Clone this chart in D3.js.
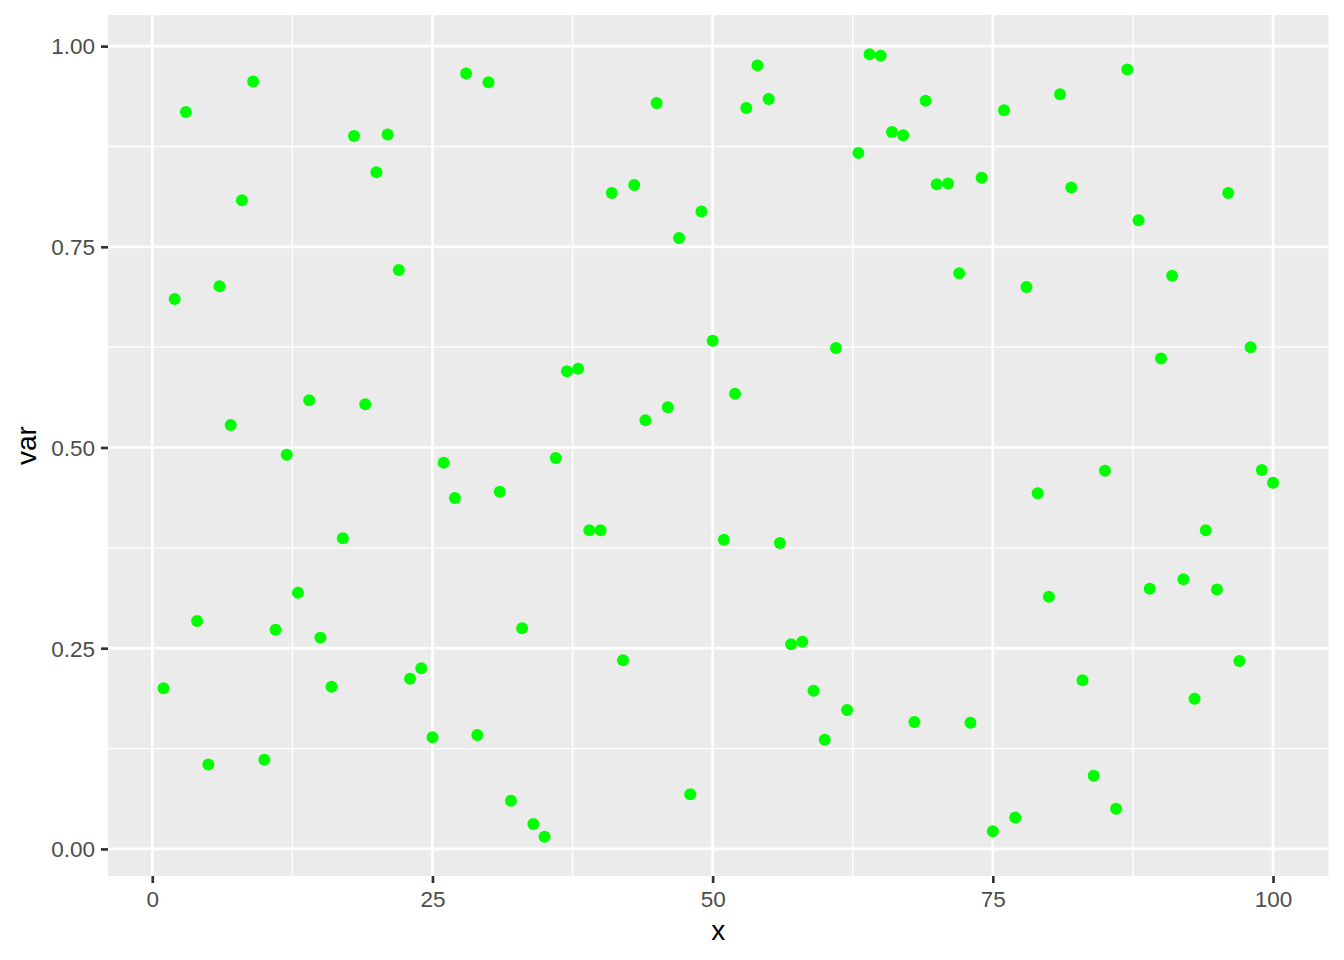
<!DOCTYPE html>
<html>
<head>
<meta charset="utf-8">
<script src="https://cdn.jsdelivr.net/npm/d3@7"></script>
<style>
  html, body { margin: 0; padding: 0; background: #ffffff; }
  svg { display: block; }
</style>
</head>
<body>
<svg id="chart" width="1344" height="960"></svg>
<script>
const xValues = Array.from({length: 100}, (_, i) => i + 1);
const varValues = [
  0.200, 0.685, 0.918, 0.284, 0.105, 0.701, 0.528, 0.808, 0.956, 0.111,
  0.273, 0.491, 0.319, 0.559, 0.263, 0.202, 0.387, 0.888, 0.554, 0.843,
  0.890, 0.721, 0.212, 0.225, 0.139, 0.481, 0.437, 0.966, 0.142, 0.955,
  0.445, 0.060, 0.275, 0.031, 0.015, 0.487, 0.595, 0.598, 0.397, 0.397,
  0.817, 0.235, 0.827, 0.534, 0.929, 0.550, 0.761, 0.068, 0.794, 0.633,
  0.385, 0.567, 0.923, 0.976, 0.934, 0.381, 0.255, 0.258, 0.197, 0.136,
  0.624, 0.173, 0.867, 0.990, 0.988, 0.893, 0.889, 0.158, 0.932, 0.828,
  0.829, 0.717, 0.157, 0.836, 0.022, 0.920, 0.039, 0.700, 0.443, 0.314,
  0.940, 0.824, 0.210, 0.091, 0.471, 0.050, 0.971, 0.783, 0.324, 0.611,
  0.714, 0.336, 0.187, 0.397, 0.323, 0.817, 0.234, 0.625, 0.472, 0.456
];
const xTicks = [0, 25, 50, 75, 100];
const xMinor = [12.5, 37.5, 62.5, 87.5];
const yTicks = [0, 0.25, 0.5, 0.75, 1.0];
const yMinor = [0.125, 0.375, 0.625, 0.875];
const xTitle = "x";
const yTitle = "var";

const data = xValues.map((x, i) => ({x, y: varValues[i]}));

const panel = {left: 108, right: 1328.5, top: 15, bottom: 876};
const svg = d3.select("#chart");

const xExt = d3.extent(xValues);
const xPad = (xExt[1] - xExt[0]) * 0.05;
const yExt = d3.extent(varValues);
const yPad = (yExt[1] - yExt[0]) * 0.05;

const x = d3.scaleLinear().domain([xExt[0] - xPad, xExt[1] + xPad]).range([panel.left, panel.right]);
const y = d3.scaleLinear().domain([yExt[0] - yPad, yExt[1] + yPad]).range([panel.bottom, panel.top]);

svg.append("rect")
  .attr("x", panel.left).attr("y", panel.top)
  .attr("width", panel.right - panel.left).attr("height", panel.bottom - panel.top)
  .attr("fill", "#EBEBEB");

const grid = svg.append("g");
grid.selectAll(".ymin").data(yMinor).enter().append("line")
  .attr("x1", panel.left).attr("x2", panel.right)
  .attr("y1", d => y(d)).attr("y2", d => y(d))
  .attr("stroke", "#ffffff").attr("stroke-width", 1.35);
grid.selectAll(".xmin").data(xMinor).enter().append("line")
  .attr("y1", panel.top).attr("y2", panel.bottom)
  .attr("x1", d => x(d)).attr("x2", d => x(d))
  .attr("stroke", "#ffffff").attr("stroke-width", 1.35);
grid.selectAll(".ymaj").data(yTicks).enter().append("line")
  .attr("x1", panel.left).attr("x2", panel.right)
  .attr("y1", d => y(d)).attr("y2", d => y(d))
  .attr("stroke", "#ffffff").attr("stroke-width", 2.7);
grid.selectAll(".xmaj").data(xTicks).enter().append("line")
  .attr("y1", panel.top).attr("y2", panel.bottom)
  .attr("x1", d => x(d)).attr("x2", d => x(d))
  .attr("stroke", "#ffffff").attr("stroke-width", 2.7);

svg.append("g").selectAll("circle").data(data).enter().append("circle")
  .attr("cx", d => x(d.x)).attr("cy", d => y(d.y))
  .attr("r", 6).attr("fill", "#00FF00");

const font = "'Liberation Sans', Arial, Helvetica, sans-serif";

const xAxis = svg.append("g")
  .attr("transform", `translate(0,${panel.bottom})`)
  .call(d3.axisBottom(x).tickValues(xTicks).tickSize(7).tickPadding(6).tickFormat(d3.format("d")));
const yAxis = svg.append("g")
  .attr("transform", `translate(${panel.left},0)`)
  .call(d3.axisLeft(y).tickValues(yTicks).tickSize(7).tickPadding(6).tickFormat(d3.format(".2f")));

[xAxis, yAxis].forEach(a => {
  a.select(".domain").remove();
  a.selectAll(".tick line").attr("stroke", "#333333").attr("stroke-width", 2.7);
  a.selectAll(".tick text").attr("fill", "#4D4D4D")
    .style("font-family", font).style("font-size", "22.5px");
});
xAxis.selectAll(".tick text").attr("dy", null).attr("y", 31);
yAxis.selectAll(".tick text").attr("dy", "0.35em");

svg.append("text")
  .attr("x", (panel.left + panel.right) / 2).attr("y", 940)
  .attr("text-anchor", "middle")
  .style("font-family", font).style("font-size", "28px").attr("fill", "#000")
  .text(xTitle);
svg.append("text")
  .attr("transform", `translate(36,${(panel.top + panel.bottom) / 2}) rotate(-90)`)
  .attr("text-anchor", "middle")
  .style("font-family", font).style("font-size", "28px").attr("fill", "#000")
  .text(yTitle);
</script>
</body>
</html>
